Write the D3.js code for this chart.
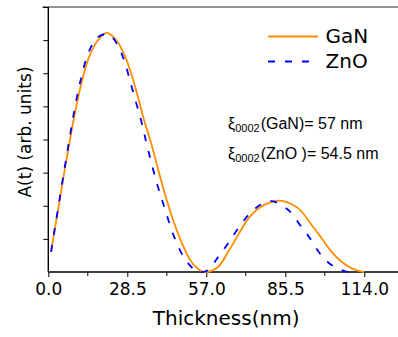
<!DOCTYPE html>
<html>
<head>
<meta charset="utf-8">
<script src="https://cdn.jsdelivr.net/npm/d3@7/dist/d3.min.js"></script>
<style>
  body { margin: 0; background: #fff; }
  svg { display: block; }
</style>
</head>
<body>
<svg id="chart" width="398" height="337"></svg>
<script>
// data
var ganThickness = [1.0, 2.4, 4.2, 6.0, 7.5, 9.1, 10.8, 12.6, 14.4, 17.5, 21.1, 24.7, 27.7, 29.5, 31.7, 34.2, 37.2, 40.8, 44.4, 48.0, 51.6, 55.2, 57.0,
                    61.3, 64.9, 68.5, 72.2, 75.8, 80.6, 84.2, 90.2, 95.0, 98.6, 102.2, 105.8, 109.5, 113.1, 114.0];
var ganA         = [0.61, 1.32, 2.22, 3.13, 3.83, 4.58, 5.28, 5.92, 6.42, 6.95, 7.22, 6.98, 6.50, 6.10, 5.49, 4.69, 3.86, 2.73, 1.72, 0.91, 0.31, 0.03, 0.0,
                    0.16, 0.61, 1.12, 1.62, 1.92, 2.12, 2.15, 1.92, 1.42, 1.02, 0.61, 0.31, 0.11, 0.01, 0.0];

var znoThickness = [1.0, 2.4, 4.2, 6.0, 7.5, 9.0, 11.4, 14.4, 17.5, 20.5, 22.9, 25.9, 27.7, 29.4, 30.9, 32.6, 34.2, 35.4, 39.0, 42.0,
                    45.6, 49.2, 52.8, 54.5, 57.7, 61.3, 64.9, 68.5, 72.2, 76.4, 80.6, 86.6, 90.8, 94.4, 98.0, 102.2, 107.6, 109.0];
var znoA         = [0.61, 1.34, 2.26, 3.20, 3.95, 4.69, 5.70, 6.60, 7.06, 7.18, 7.10, 6.70, 6.30, 5.80, 5.34, 4.84, 4.34, 3.89, 2.73, 1.92,
                    1.02, 0.41, 0.06, 0.0, 0.06, 0.46, 0.87, 1.32, 1.72, 2.02, 2.14, 1.87, 1.42, 1.02, 0.56, 0.21, 0.01, 0.0];

var xTickValues = [0, 28.5, 57, 85.5, 114];
var xTickLabels = ['0.0', '28.5', '57.0', '85.5', '114.0'];
var xMinorTicks = [14.25, 42.75, 71.25, 99.75];
var yTickValues = [1, 2, 3, 4, 5, 6, 7, 8];

var seriesNames = ['GaN', 'ZnO'];
var notes = [
    {label: '(GaN)= 57 nm'},
    {label: '(ZnO )= 54.5 nm'}
];

// setup
var width = 398, height = 337;
var svg = d3.select('#chart');

var x = d3.scaleLinear().domain([0, 114]).range([48.3, 364.3]);
var y = d3.scaleLinear().domain([0, 8]).range([272, 7]);

var orange = '#ff8c00';
var blue   = '#0000ff';

// frame: grey top line, black left and bottom axes
svg.append('line')
    .attr('x1', x(0) - 6).attr('x2', width)
    .attr('y1', y(8)).attr('y2', y(8))
    .attr('stroke', '#707070').attr('stroke-width', 1.6);

// y ticks (no labels)
var yAxis = d3.axisLeft(y).tickValues(yTickValues).tickSize(5).tickFormat('').tickSizeOuter(0);
var gy = svg.append('g').attr('transform', 'translate(' + x(0) + ',0)').call(yAxis);
gy.select('.domain').remove();
gy.selectAll('line').attr('stroke', '#000').attr('stroke-width', 1);

// x ticks
var xAxis = d3.axisBottom(x).tickValues(xTickValues).tickSize(5).tickPadding(6)
    .tickFormat(function(d, i) { return xTickLabels[i]; }).tickSizeOuter(0);
var gx = svg.append('g').attr('transform', 'translate(0,' + y(0) + ')').call(xAxis);
gx.select('.domain').remove();
gx.selectAll('line').attr('stroke', '#000').attr('stroke-width', 1);
gx.selectAll('text')
    .attr('fill', '#000')
    .style('font-family', '"DejaVu Sans", sans-serif')
    .style('font-size', '17px');

svg.append('g').selectAll('line').data(xMinorTicks).enter().append('line')
    .attr('x1', function(d) { return x(d); }).attr('x2', function(d) { return x(d); })
    .attr('y1', y(0)).attr('y2', y(0) + 4)
    .attr('stroke', '#000').attr('stroke-width', 1);

svg.append('line')
    .attr('x1', x(0)).attr('x2', width)
    .attr('y1', y(0)).attr('y2', y(0))
    .attr('stroke', '#000').attr('stroke-width', 1.4);
svg.append('line')
    .attr('x1', x(0)).attr('x2', x(0))
    .attr('y1', y(0)).attr('y2', y(8))
    .attr('stroke', '#000').attr('stroke-width', 1.4);

// curves
var line = d3.line()
    .x(function(d) { return x(d[0]); })
    .y(function(d) { return y(Math.max(0, d[1])); })
    .curve(d3.curveCatmullRom.alpha(0.5));

var ganData = ganThickness.map(function(t, i) { return [t, ganA[i]]; });
var znoData = znoThickness.map(function(t, i) { return [t, znoA[i]]; });

svg.append('path').datum(ganData)
    .attr('d', line)
    .attr('fill', 'none').attr('stroke', orange).attr('stroke-width', 1.8);

svg.append('path').datum(znoData)
    .attr('d', line)
    .attr('fill', 'none').attr('stroke', blue).attr('stroke-width', 1.8)
    .attr('stroke-dasharray', '7,10');

// legend
var legend = svg.append('g');
legend.append('line')
    .attr('x1', 268).attr('x2', 318).attr('y1', 36.5).attr('y2', 36.5)
    .attr('stroke', orange).attr('stroke-width', 1.8);
legend.append('line')
    .attr('x1', 268).attr('x2', 312).attr('y1', 61.5).attr('y2', 61.5)
    .attr('stroke', blue).attr('stroke-width', 1.8)
    .attr('stroke-dasharray', '7,10');
legend.selectAll('text').data(seriesNames).enter().append('text')
    .attr('x', 325.5)
    .attr('y', function(d, i) { return 43.3 + i * 25; })
    .attr('fill', '#000')
    .style('font-family', '"DejaVu Sans", sans-serif')
    .style('font-size', '20px')
    .text(function(d) { return d; });

// extinction length notes
var noteText = svg.append('g').selectAll('text').data(notes).enter().append('text')
    .attr('x', 228)
    .attr('y', function(d, i) { return 128.5 + i * 30; })
    .attr('fill', '#000')
    .style('font-family', '"Liberation Sans", sans-serif')
    .style('font-size', '16px');
noteText.append('tspan').text('\u03be');
noteText.append('tspan').attr('dy', 3).style('font-size', '11px').text('0002');
noteText.append('tspan').attr('dy', -3).attr('dx', 1).text(function(d) { return d.label; });

// axis titles
svg.append('text')
    .attr('x', (x(0) + width) / 2 + 3)
    .attr('y', 325)
    .attr('text-anchor', 'middle')
    .attr('fill', '#000')
    .style('font-family', '"DejaVu Sans", sans-serif')
    .style('font-size', '20px')
    .text('Thickness(nm)');

svg.append('text')
    .attr('transform', 'translate(31,132) rotate(-90)')
    .attr('text-anchor', 'middle')
    .attr('fill', '#000')
    .style('font-family', '"DejaVu Sans", sans-serif')
    .style('font-size', '17px')
    .text('A(t) (arb. units)');
</script>
</body>
</html>
